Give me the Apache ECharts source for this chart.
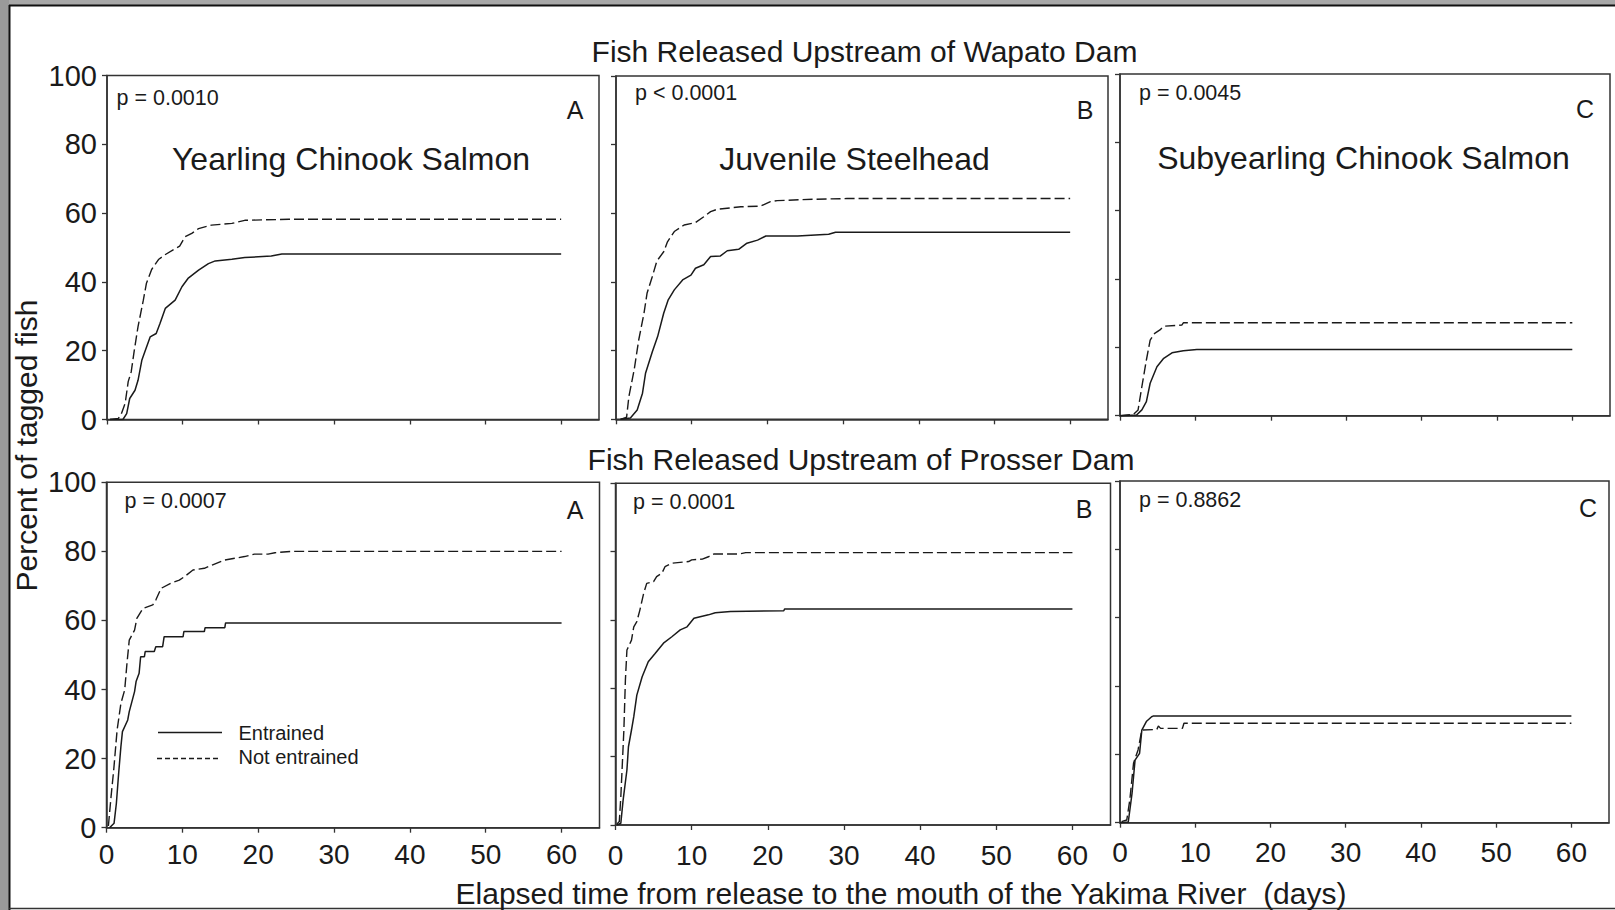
<!DOCTYPE html>
<html>
<head>
<meta charset="utf-8">
<script src="https://cdn.jsdelivr.net/npm/echarts@6/dist/echarts.min.js"></script>
<style>
  html, body { margin: 0; padding: 0; background: #ffffff; }
  #chart { width: 1615px; height: 910px; }
</style>
</head>
<body>
<div id="chart"></div>
<script>
// ---------- data (days, percent of tagged fish) ----------
const xTicks = [0, 10, 20, 30, 40, 50, 60];
const yTicks = [0, 20, 40, 60, 80, 100];

const groupTitles = ['Fish Released Upstream of Wapato Dam', 'Fish Released Upstream of Prosser Dam'];
const speciesNames = ['Yearling Chinook Salmon', 'Juvenile Steelhead', 'Subyearling Chinook Salmon'];
const panelLetters = ['A', 'B', 'C', 'A', 'B', 'C'];
const pValues = ['p = 0.0010', 'p < 0.0001', 'p = 0.0045', 'p = 0.0007', 'p = 0.0001', 'p = 0.8862'];
const legendNames = ['Entrained', 'Not entrained'];
const yAxisTitle = 'Percent of tagged fish';
const xAxisTitle = 'Elapsed time from release to the mouth of the Yakima River  (days)';

const wapatoYearlingEntrained = [[0.4,0],[2.1,0],[2.6,1.7],[3.0,6.1],[3.7,8.5],[4.1,11.4],[4.6,17.2],[5.0,19.7],[5.7,24],[6.5,25],[7.0,27.9],[7.7,32.3],[9.0,34.7],[9.9,38.6],[10.7,41],[12.1,43.4],[13.4,45.3],[14.3,46.1],[16.5,46.6],[18.2,47.1],[21.7,47.5],[23.1,48.1],[60,48.1]];
const wapatoYearlingNot = [[0.4,0],[1.5,0.3],[1.9,1.7],[2.4,4.7],[2.8,11],[3.2,13.9],[3.6,20],[4.1,27],[4.8,34.7],[5.2,39.5],[5.9,43.6],[6.8,46.5],[7.6,47.8],[8.8,49.4],[9.6,50.4],[10.3,53.1],[11.2,54.1],[12.1,55.5],[13.8,56.5],[16.5,57],[18.2,57.9],[24,58.2],[60,58.2]];

const wapatoSteelheadEntrained = [[0.6,0],[1.9,0.4],[2.8,2.7],[3.5,7.6],[3.9,13.4],[4.8,19.7],[5.5,24.1],[6.3,30.9],[6.9,34.8],[7.7,37.7],[8.8,40.6],[9.9,42],[10.5,44],[11.6,45],[12.5,47.4],[13.8,47.6],[14.7,49.1],[16.2,49.5],[17.3,51.3],[18.7,52.2],[19.8,53.4],[24,53.4],[28.1,53.9],[29,54.5],[60,54.5]];
const wapatoSteelheadNot = [[0.6,0],[1.4,0.6],[1.7,6.6],[2.4,14.4],[3.0,23.1],[3.7,30.9],[4.1,36.7],[4.8,41.6],[5.4,46.1],[6.3,48.8],[6.8,51.7],[7.7,54.7],[9.0,56.6],[10.5,57.3],[11.6,59],[12.5,60.5],[13.4,61.2],[16.5,61.9],[19.1,62.1],[20.4,63.4],[21.3,63.7],[26.1,64.1],[30.5,64.3],[60,64.3]];

const wapatoSubyearlingEntrained = [[0,0],[2.2,0.2],[2.9,1.7],[3.5,4.1],[4.0,9.5],[4.9,14.3],[5.8,16.8],[6.9,18.4],[8.4,19.0],[10.2,19.4],[60,19.4]];
const wapatoSubyearlingNot = [[0,0],[1.8,0.4],[2.4,1.7],[2.9,8.5],[3.5,16.3],[4.0,22.1],[4.6,24.1],[5.3,25.1],[5.8,26.2],[8.2,26.5],[8.4,27.2],[60,27.2]];

const prosserYearlingEntrained = [[0.4,0],[1.0,1.3],[1.3,7],[1.6,15.7],[1.9,23.5],[2.1,27.8],[2.8,31.2],[3.0,33.6],[3.7,39.4],[3.9,42.3],[4.3,44.7],[4.5,49.5],[5.0,49.5],[5.1,51],[6.3,51],[6.5,52.4],[7.4,52.4],[7.6,55.3],[10.1,55.3],[10.2,56.8],[12.9,56.8],[13.0,57.9],[15.6,57.9],[15.7,59.3],[60,59.3]];
const prosserYearlingNot = [[0.25,0.5],[0.6,9],[0.95,16.7],[1.4,28.3],[1.9,36],[2.4,39.9],[2.7,47.6],[3.0,54.3],[3.7,57.2],[4.0,60.6],[4.8,63.5],[6.1,64.5],[6.5,65.9],[7.2,69.3],[8.5,70.8],[9.6,71.7],[10.3,72.7],[11.4,74.6],[12.9,75.1],[14.0,76.1],[15.6,77.5],[16.9,78],[18.2,78.5],[19.5,79.2],[21.3,79.2],[22.2,79.6],[24.3,80],[60,80]];

const prosserSteelheadEntrained = [[0.2,0],[0.7,0.5],[1.0,7.3],[1.5,16.1],[1.7,22.9],[2.1,27.8],[2.4,31.7],[2.8,38],[3.5,43.4],[4.3,47.8],[5.2,50.2],[6.3,53.2],[7.4,55.1],[8.5,57.1],[9.4,58],[10.3,60.5],[12.2,61.5],[13.1,62.1],[15.1,62.5],[22.1,62.7],[22.2,63.2],[60,63.2]];
const prosserSteelheadNot = [[0.2,0.3],[0.5,1],[0.7,8.3],[0.9,18],[1.1,27.8],[1.3,42.4],[1.5,51.2],[2.1,54.1],[2.4,58],[2.8,59.5],[3.2,62.9],[3.7,67.8],[4.1,70.7],[5.0,71.2],[5.4,72.7],[6.1,73.7],[6.5,75.6],[7.4,76.6],[9.6,77.1],[10.0,77.6],[11.4,77.8],[12.2,78.5],[12.9,79.3],[16.2,79.3],[17.1,79.7],[60,79.7]];

const prosserSubyearlingEntrained = [[0,0],[1.1,0.2],[1.6,8.6],[2.0,18.3],[2.6,20.3],[2.9,27.1],[3.5,29.6],[4.2,31],[4.4,31.2],[60,31.2]];
const prosserSubyearlingNot = [[0.2,0.3],[0.9,0.8],[1.3,6.6],[1.8,17.4],[2.4,21.3],[2.9,27.1],[4.9,27.3],[5.1,28.3],[5.4,27.6],[8.3,27.6],[8.5,29.1],[60,29.1]];

const entrainedSeries = [wapatoYearlingEntrained, wapatoSteelheadEntrained, wapatoSubyearlingEntrained, prosserYearlingEntrained, prosserSteelheadEntrained, prosserSubyearlingEntrained];
const notEntrainedSeries = [wapatoYearlingNot, wapatoSteelheadNot, wapatoSubyearlingNot, prosserYearlingNot, prosserSteelheadNot, prosserSubyearlingNot];

// ---------- layout ----------
const FONT = 'Liberation Sans, Arial, Helvetica, sans-serif';
const INK = '#1a1a1a';
const BOX = '#333333';
const grids = [
  { left: 107, top: 75.5, width: 492, height: 344 },
  { left: 616, top: 76, width: 492, height: 343.3 },
  { left: 1120, top: 74, width: 490, height: 341.7 },
  { left: 106.5, top: 482.3, width: 493, height: 345.4 },
  { left: 615.5, top: 483.3, width: 495, height: 341.7 },
  { left: 1120, top: 481, width: 489, height: 341.7 }
];
const xLabelMargins = [13, 13, 13, 13, 16, 16];

const option = {
  animation: false,
  backgroundColor: '#ffffff',
  textStyle: { fontFamily: FONT },
  grid: grids.map(g => Object.assign({
    show: true, borderColor: BOX, borderWidth: 1.5, backgroundColor: 'transparent',
    containLabel: false, outerBoundsMode: 'none'
  }, g)),
  xAxis: grids.map((g, i) => ({
    gridIndex: i, type: 'value', min: 0, max: 65, interval: 10,
    axisLine: { show: true, onZero: false, lineStyle: { color: BOX, width: 1.5 } },
    axisTick: { show: true, inside: false, length: 5, customValues: xTicks, lineStyle: { color: BOX, width: 1.3 } },
    axisLabel: { show: i >= 3, customValues: xTicks, fontSize: 28, color: INK, fontFamily: FONT, margin: xLabelMargins[i] },
    splitLine: { show: false }
  })),
  yAxis: grids.map((g, i) => ({
    gridIndex: i, type: 'value', min: 0, max: 100, interval: 20,
    axisLine: { show: true, onZero: false, lineStyle: { color: BOX, width: 1.5 } },
    axisTick: { show: true, inside: false, length: 5, customValues: yTicks, lineStyle: { color: BOX, width: 1.3 } },
    axisLabel: { show: i === 0 || i === 3, customValues: yTicks, fontSize: 29, color: INK, fontFamily: FONT, margin: 10 },
    splitLine: { show: false }
  })),
  series: [],
  graphic: []
};

entrainedSeries.forEach((d, i) => {
  option.series.push({
    name: legendNames[0], type: 'line', xAxisIndex: i, yAxisIndex: i, data: d,
    showSymbol: false, symbol: 'none', silent: true,
    lineStyle: { color: INK, width: 1.5, type: 'solid' }
  });
});
notEntrainedSeries.forEach((d, i) => {
  option.series.push({
    name: legendNames[1], type: 'line', xAxisIndex: i, yAxisIndex: i, data: d,
    showSymbol: false, symbol: 'none', silent: true,
    lineStyle: { color: INK, width: 1.4, type: [10, 4] }
  });
});

function txt(text, x, y, size, align, extra) {
  return Object.assign({
    type: 'text', x: x, y: y, silent: true,
    style: {
      text: text, font: size + 'px ' + FONT, fill: INK,
      textAlign: align || 'center', textVerticalAlign: 'middle',
      align: align || 'center', verticalAlign: 'middle'
    }
  }, extra || {});
}

const G = option.graphic;
// slide frame
G.push({ type: 'rect', shape: { x: 0, y: 0, width: 1615, height: 5 }, style: { fill: '#a8a8a8' }, silent: true });
G.push({ type: 'rect', shape: { x: 0, y: 0, width: 9, height: 910 }, style: { fill: '#9a9a9a' }, silent: true });
G.push({ type: 'line', shape: { x1: 9, y1: 5.5, x2: 1615, y2: 5.5 }, style: { stroke: '#111', lineWidth: 2 }, silent: true });
G.push({ type: 'line', shape: { x1: 9.5, y1: 5, x2: 9.5, y2: 910 }, style: { stroke: '#111', lineWidth: 2 }, silent: true });
G.push({ type: 'line', shape: { x1: 9, y1: 908.5, x2: 1615, y2: 908.5 }, style: { stroke: '#333', lineWidth: 1.5 }, silent: true });

// group titles
G.push(txt(groupTitles[0], 864.5, 51, 30));
G.push(txt(groupTitles[1], 861, 459, 30));
// species names
G.push(txt(speciesNames[0], 351, 159, 32));
G.push(txt(speciesNames[1], 854.5, 159, 32));
G.push(txt(speciesNames[2], 1363.5, 158, 32));
// panel letters
const letterPos = [[575, 110], [1085, 110], [1585, 109], [575, 510], [1084, 509], [1588, 508]];
panelLetters.forEach((l, i) => G.push(txt(l, letterPos[i][0], letterPos[i][1], 25)));
// p values
const pPos = [[116.5, 98], [635, 93], [1139, 93], [124.5, 501], [633, 502], [1139, 500]];
pValues.forEach((p, i) => G.push(txt(p, pPos[i][0], pPos[i][1], 21.5, 'left', null)));
// axis titles
G.push(txt(yAxisTitle, 26.5, 445.5, 30, 'center', { rotation: Math.PI / 2 }));
G.push(txt(xAxisTitle, 901, 893, 30));
// legend
G.push({ type: 'line', shape: { x1: 158, y1: 732.5, x2: 222, y2: 732.5 }, style: { stroke: INK, lineWidth: 1.5 }, silent: true });
G.push({ type: 'line', shape: { x1: 157, y1: 758.5, x2: 221, y2: 758.5 }, style: { stroke: INK, lineWidth: 1.4, lineDash: [5, 3] }, silent: true });
G.push(txt(legendNames[0], 238.5, 733, 20, 'left'));
G.push(txt(legendNames[1], 238.5, 757, 20, 'left'));

const chart = echarts.init(document.getElementById('chart'), null, { renderer: 'svg', width: 1615, height: 910 });
chart.setOption(option);
</script>
</body>
</html>
